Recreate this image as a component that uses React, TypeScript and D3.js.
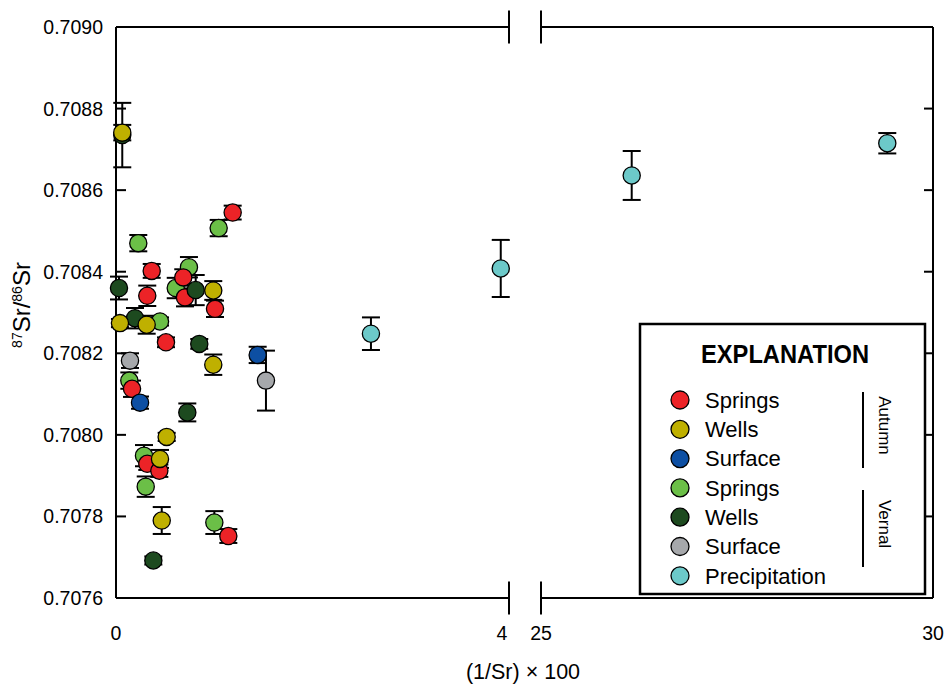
import React from "react";
import * as d3 from "d3";

// Each row: [ (1/Sr) x 100, 87Sr/86Sr, 2-sigma error ]
type Row = [number, number, number];

const autumnSprings: Row[] = [
  [0.370, 0.708402, 0.000017],
  [0.324, 0.708341, 0.000025],
  [0.697, 0.708386, 0.000020],
  [0.715, 0.708337, 0.000022],
  [1.026, 0.708309, 0.000020],
  [1.209, 0.708545, 0.000017],
  [0.518, 0.708227, 0.000012],
  [0.166, 0.708113, 0.000020],
  [0.324, 0.707929, 0.000015],
  [0.449, 0.707912, 0.000015],
  [1.164, 0.707752, 0.000017],
];

const autumnWells: Row[] = [
  [0.065, 0.708741, 0.000019],
  [0.041, 0.708274, 0.000010],
  [0.318, 0.708270, 0.000022],
  [1.008, 0.708354, 0.000023],
  [1.008, 0.708172, 0.000025],
  [0.525, 0.707995, 0.000010],
  [0.456, 0.707941, 0.000022],
  [0.474, 0.707790, 0.000033],
];

const autumnSurface: Row[] = [
  [1.468, 0.708196, 0.000020],
  [0.249, 0.708079, 0.000015],
];

const vernalSprings: Row[] = [
  [0.231, 0.708470, 0.000020],
  [0.756, 0.708411, 0.000025],
  [0.619, 0.708360, 0.000025],
  [0.456, 0.708278, 0.000010],
  [1.064, 0.708507, 0.000020],
  [0.138, 0.708133, 0.000020],
  [0.290, 0.707949, 0.000026],
  [0.308, 0.707873, 0.000025],
  [1.019, 0.707785, 0.000028],
];

const vernalWells: Row[] = [
  [0.065, 0.708735, 0.000079],
  [0.031, 0.708360, 0.000028],
  [0.197, 0.708286, 0.000025],
  [0.826, 0.708355, 0.000037],
  [0.863, 0.708223, 0.000012],
  [0.739, 0.708055, 0.000022],
  [0.387, 0.707692, 0.000010],
];

const vernalSurface: Row[] = [
  [0.145, 0.708182, 0.000018],
  [1.554, 0.708133, 0.0000735],
];

const precipitation: Row[] = [
  [2.642, 0.708248, 0.000040],
  [3.987, 0.708408, 0.000070],
  [26.157, 0.708636, 0.000060],
  [29.417, 0.708715, 0.000025],
];

const yTicks = [0.7076, 0.7078, 0.708, 0.7082, 0.7084, 0.7086, 0.7088, 0.709];
const xTicksLow = [0, 4];
const xTicksHigh = [25, 30];

const legendLabels = ["Springs", "Wells", "Surface", "Springs", "Wells", "Surface", "Precipitation"];
const seasonLabels = ["Autumn", "Vernal"];

const colors = {
  autumnSprings: "#ec2327",
  autumnWells: "#bfb000",
  autumnSurface: "#0d4fa3",
  vernalSprings: "#6bbf47",
  vernalWells: "#1d4a1f",
  vernalSurface: "#a6a8ab",
  precipitation: "#6cc9c9",
};

const FONT = "'Liberation Sans', Arial, sans-serif";

export default function App() {
  const W = 945;
  const H = 687;
  const left = 116;
  const right = 933;
  const top = 27;
  const bottom = 598;
  const breakA = 509;
  const breakB = 541;

  const y = d3.scaleLinear().domain([0.7076, 0.709]).range([bottom, top]);
  const xLow = d3.scaleLinear().domain([0, 4]).range([left, 502]);
  const xHigh = d3.scaleLinear().domain([25, 30]).range([breakB, right]);
  const x = (v: number) => (v <= 10 ? xLow(v) : xHigh(v));

  const drawOrder: { rows: Row[]; color: string }[] = [
    { rows: vernalSprings, color: colors.vernalSprings },
    { rows: autumnSprings, color: colors.autumnSprings },
    { rows: vernalWells, color: colors.vernalWells },
    { rows: autumnWells, color: colors.autumnWells },
    { rows: autumnSurface, color: colors.autumnSurface },
    { rows: vernalSurface, color: colors.vernalSurface },
    { rows: precipitation, color: colors.precipitation },
  ];

  const legendColors = [
    colors.autumnSprings,
    colors.autumnWells,
    colors.autumnSurface,
    colors.vernalSprings,
    colors.vernalWells,
    colors.vernalSurface,
    colors.precipitation,
  ];

  const r = 8.6;
  const cap = 9;
  const breakHalf = 16.5;

  return (
    <div style={{ position: "absolute", left: 0, top: 0 }}>
      <svg width={W} height={H} style={{ display: "block", background: "#fff" }} fontFamily={FONT}>
        {/* frame: broken top and bottom axes */}
        <g stroke="#000" strokeWidth={2} fill="none">
          <line x1={left} x2={left} y1={top} y2={bottom} />
          <line x1={right} x2={right} y1={top} y2={bottom} />
          <line x1={left} x2={breakA} y1={top} y2={top} />
          <line x1={breakB} x2={right} y1={top} y2={top} />
          <line x1={left} x2={breakA} y1={bottom} y2={bottom} />
          <line x1={breakB} x2={right} y1={bottom} y2={bottom} />
          {[breakA, breakB].map((bx) => (
            <g key={bx}>
              <line x1={bx} x2={bx} y1={top - breakHalf} y2={top + breakHalf} />
              <line x1={bx} x2={bx} y1={bottom - breakHalf} y2={bottom + breakHalf} />
            </g>
          ))}
          {yTicks.map((t) => (
            <g key={t}>
              <line x1={left} x2={left + 10} y1={y(t)} y2={y(t)} />
              <line x1={right - 9} x2={right} y1={y(t)} y2={y(t)} />
            </g>
          ))}
        </g>

        {/* y tick labels */}
        {yTicks.map((t) => (
          <text key={t} x={103} y={y(t) + 7} fontSize={19.5} textAnchor="end" fill="#000">
            {d3.format(".4f")(t)}
          </text>
        ))}

        {/* x tick labels */}
        {xTicksLow.map((t) => (
          <text key={"l" + t} x={xLow(t)} y={640} fontSize={19.5} textAnchor="middle">
            {t}
          </text>
        ))}
        {xTicksHigh.map((t) => (
          <text key={"h" + t} x={xHigh(t)} y={640} fontSize={19.5} textAnchor="middle">
            {t}
          </text>
        ))}

        {/* axis titles */}
        <text x={523} y={679} fontSize={21.5} textAnchor="middle">
          (1/Sr) × 100
        </text>
        <text transform="translate(30,305) rotate(-90)" fontSize={24} textAnchor="middle">
          <tspan fontSize={14} dy={-8}>87</tspan>
          <tspan dy={8}>Sr/</tspan>
          <tspan fontSize={14} dy={-8}>86</tspan>
          <tspan dy={8}>Sr</tspan>
        </text>

        {/* error bars */}
        <g stroke="#000" strokeWidth={2}>
          {drawOrder.map((s, si) =>
            s.rows.map((d, i) => {
              const cx = x(d[0]);
              const y1 = y(d[1] + d[2]);
              const y2 = y(d[1] - d[2]);
              return (
                <g key={si + "-" + i}>
                  <line x1={cx} x2={cx} y1={y1} y2={y2} />
                  <line x1={cx - cap} x2={cx + cap} y1={y1} y2={y1} />
                  <line x1={cx - cap} x2={cx + cap} y1={y2} y2={y2} />
                </g>
              );
            })
          )}
        </g>

        {/* markers */}
        <g stroke="#000" strokeWidth={1.3}>
          {drawOrder.map((s, si) =>
            s.rows.map((d, i) => (
              <circle key={si + "-" + i} cx={x(d[0])} cy={y(d[1])} r={r} fill={s.color} />
            ))
          )}
        </g>

        {/* legend */}
        <g>
          <rect x={640} y={324} width={285} height={270} fill="#fff" stroke="#000" strokeWidth={2.5} />
          <text x={785} y={363} fontSize={25} fontWeight="bold" textAnchor="middle" textLength={168} lengthAdjust="spacingAndGlyphs">
            EXPLANATION
          </text>
          {legendLabels.map((lab, i) => {
            const cy = 400 + i * 29.3;
            return (
              <g key={i}>
                <circle cx={680} cy={cy} r={9} fill={legendColors[i]} stroke="#000" strokeWidth={1.3} />
                <text x={705} y={cy + 7.8} fontSize={22}>
                  {lab}
                </text>
              </g>
            );
          })}
          <line x1={863} x2={863} y1={392} y2={468} stroke="#000" strokeWidth={2} />
          <line x1={863} x2={863} y1={490} y2={567} stroke="#000" strokeWidth={2} />
          <text transform="translate(879,425.5) rotate(90)" fontSize={17} textAnchor="middle">
            {seasonLabels[0]}
          </text>
          <text transform="translate(879,524) rotate(90)" fontSize={17} textAnchor="middle">
            {seasonLabels[1]}
          </text>
        </g>
      </svg>
    </div>
  );
}
